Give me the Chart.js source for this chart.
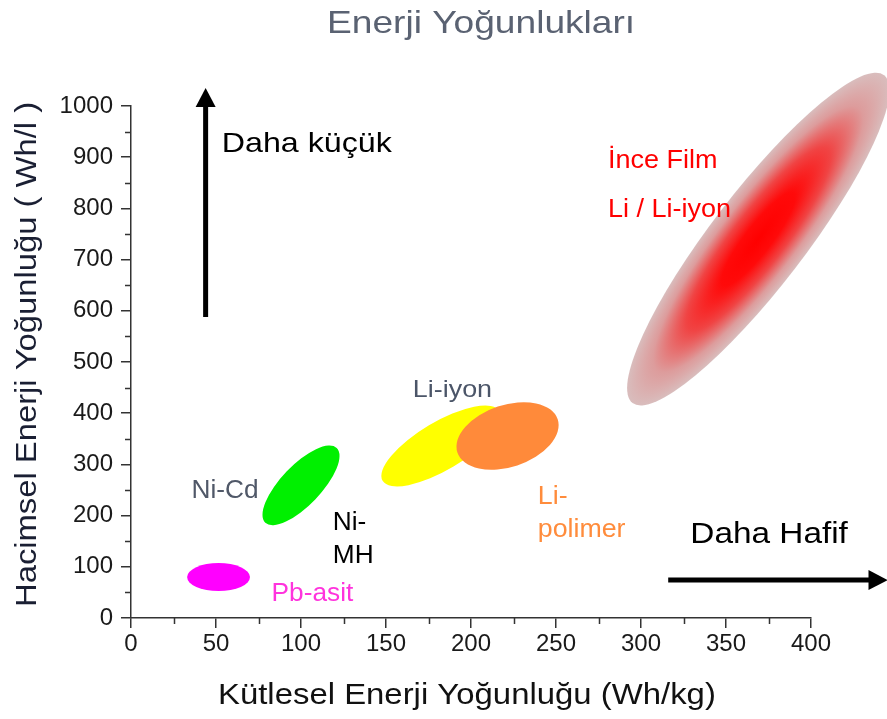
<!DOCTYPE html>
<html lang="tr">
<head>
    <meta charset="UTF-8">
    <title>Enerji Yoğunlukları</title>
    <script src="https://cdn.jsdelivr.net/npm/chart.js"></script>
    <style>
        body { margin: 0; background: #fff; }
        .chart-container { width: 887px; height: 719px; }
    </style>
</head>
<body>
    <div class="chart-container">
        <canvas id="energyChart" width="887" height="719"></canvas>
    </div>
    <script>
        // battery types, drawn back to front
        const regions = ['Pb-asit', 'Ni-Cd', 'Li-iyon', 'Li-polimer', 'İnce Film Li / Li-iyon'];
        // ends of the long axis of each region (Wh/kg, Wh/l)
        const whKgFrom = [33, 79, 148, 192, 295];
        const whKgTo = [70, 121, 217, 251, 443];
        const whLFrom = [80, 186, 268, 323, 420];
        const whLTo = [80, 332, 404, 388, 1060];

        const xTicks = [0, 50, 100, 150, 200, 250, 300, 350, 400];
        const yTicks = [0, 100, 200, 300, 400, 500, 600, 700, 800, 900, 1000];

        // look of each region: fill and half-thickness (px)
        const regionStyle = [
            { color: '#ff00ff', half: 14 },
            { color: '#00f000', half: 20 },
            { color: '#ffff00', half: 24 },
            { color: '#ff8a3a', half: 31 },
            { color: 'gradient', half: 47 }
        ];

        const font = 'Liberation Sans, Arial, sans-serif';

        // text notes anchored in data units (left edge, baseline)
        const notes = [
            { text: 'Daha küçük', x: 53.4, y: 910, size: 28, stretch: 1.15, color: '#000' },
            { text: 'İnce Film', x: 280.6, y: 879, size: 25, stretch: 1.08, color: '#ff0000' },
            { text: 'Li / Li-iyon', x: 280.6, y: 783, size: 25, stretch: 1.08, color: '#ff0000' },
            { text: 'Li-iyon', x: 165.8, y: 432, size: 24, stretch: 1.12, color: '#4b5568' },
            { text: 'Ni-Cd', x: 35.6, y: 234, size: 25, stretch: 1.05, color: '#505868' },
            { text: 'Ni-', x: 118.7, y: 172, size: 25, stretch: 1.05, color: '#000' },
            { text: 'MH', x: 118.7, y: 107, size: 25, stretch: 1.05, color: '#000' },
            { text: 'Pb-asit', x: 82.7, y: 33, size: 25, stretch: 1.05, color: '#ff33dd' },
            { text: 'Li-', x: 239.3, y: 223, size: 25, stretch: 1.07, color: '#ff8c3c' },
            { text: 'polimer', x: 239.3, y: 158, size: 25, stretch: 1.07, color: '#ff8c3c' },
            { text: 'Daha Hafif', x: 329, y: 146, size: 29, stretch: 1.15, color: '#000' }
        ];
        // arrows in data units
        const arrows = [
            { x1: 43.9, y1: 588, x2: 43.9, y2: 1035 },
            { x1: 316, y1: 74, x2: 445, y2: 74 }
        ];

        function stretchedText(ctx, text, x, y, size, stretch, color, rot) {
            ctx.save();
            ctx.translate(x, y);
            if (rot) ctx.rotate(rot);
            ctx.scale(stretch, 1);
            ctx.font = size + 'px ' + font;
            ctx.fillStyle = color;
            ctx.textAlign = 'left';
            ctx.textBaseline = 'alphabetic';
            ctx.fillText(text, 0, 0);
            ctx.restore();
        }

        const regionPlugin = {
            id: 'regions',
            beforeDatasetsDraw(chart) {
                const ctx = chart.ctx;
                regions.forEach((name, i) => {
                    const pts = chart.getDatasetMeta(i).data;
                    const p1 = pts[0], p2 = pts[1];
                    const cx = (p1.x + p2.x) / 2, cy = (p1.y + p2.y) / 2;
                    const a = Math.hypot(p2.x - p1.x, p2.y - p1.y) / 2;
                    const ang = Math.atan2(p2.y - p1.y, p2.x - p1.x);
                    const b = regionStyle[i].half;
                    ctx.save();
                    if (regionStyle[i].color === 'gradient') {
                        ctx.translate(cx, cy);
                        ctx.rotate(ang);
                        ctx.scale(1, b / a);
                        const g = ctx.createRadialGradient(0, 0, 0, 0, 0, a);
                        g.addColorStop(0, '#ff0000');
                        g.addColorStop(0.28, '#ff0a0a');
                        g.addColorStop(0.55, '#f04444');
                        g.addColorStop(0.8, '#dd9c9c');
                        g.addColorStop(1, '#d9bdbd');
                        ctx.fillStyle = g;
                        ctx.beginPath();
                        ctx.arc(0, 0, a, 0, Math.PI * 2);
                        ctx.fill();
                    } else {
                        ctx.fillStyle = regionStyle[i].color;
                        ctx.beginPath();
                        ctx.ellipse(cx, cy, a, b, ang, 0, Math.PI * 2);
                        ctx.fill();
                    }
                    ctx.restore();
                });
            },
            afterDraw(chart) {
                const ctx = chart.ctx;
                const xs = chart.scales.x, ys = chart.scales.y;

                // minor ticks
                ctx.save();
                ctx.strokeStyle = '#333';
                ctx.lineWidth = 1.5;
                ctx.beginPath();
                for (let v = 25; v < 400; v += 50) {
                    const px = Math.round(xs.getPixelForValue(v)) + 0.5;
                    ctx.moveTo(px, ys.bottom);
                    ctx.lineTo(px, ys.bottom + 6);
                }
                for (let v = 50; v < 1000; v += 100) {
                    const py = Math.round(ys.getPixelForValue(v)) + 0.5;
                    ctx.moveTo(xs.left, py);
                    ctx.lineTo(xs.left - 6, py);
                }
                ctx.stroke();
                ctx.restore();

                // arrows
                arrows.forEach(ar => {
                    const x1 = xs.getPixelForValue(ar.x1), y1 = ys.getPixelForValue(ar.y1);
                    const x2 = xs.getPixelForValue(ar.x2), y2 = ys.getPixelForValue(ar.y2);
                    const ang = Math.atan2(y2 - y1, x2 - x1);
                    const head = 19;
                    ctx.save();
                    ctx.strokeStyle = '#000';
                    ctx.fillStyle = '#000';
                    ctx.lineWidth = 5;
                    ctx.beginPath();
                    ctx.moveTo(x1, y1);
                    ctx.lineTo(x2 - Math.cos(ang) * head * 0.8, y2 - Math.sin(ang) * head * 0.8);
                    ctx.stroke();
                    ctx.translate(x2, y2);
                    ctx.rotate(ang);
                    ctx.beginPath();
                    ctx.moveTo(0, 0);
                    ctx.lineTo(-head, -10);
                    ctx.lineTo(-head, 10);
                    ctx.closePath();
                    ctx.fill();
                    ctx.restore();
                });

                // notes
                notes.forEach(n => {
                    stretchedText(ctx, n.text, xs.getPixelForValue(n.x), ys.getPixelForValue(n.y),
                        n.size, n.stretch, n.color);
                });

                // title and axis titles
                stretchedText(ctx, 'Enerji Yoğunlukları', 327, 33, 32, 1.16, '#5a6272');
                stretchedText(ctx, 'Kütlesel Enerji Yoğunluğu (Wh/kg)', 218, 704, 29, 1.134, '#111');
                stretchedText(ctx, 'Hacimsel Enerji Yoğunluğu ( Wh/l )', 36, 607, 29, 1.13, '#1a1f33', -Math.PI / 2);
            }
        };

        const datasets = regions.map((name, i) => ({
            label: name,
            data: [{ x: whKgFrom[i], y: whLFrom[i] }, { x: whKgTo[i], y: whLTo[i] }],
            pointRadius: 0,
            showLine: false
        }));

        const axisStyle = {
            border: { display: true, color: '#333', width: 1.5 },
            grid: { drawOnChartArea: false, drawTicks: true, tickLength: 10, color: '#333', lineWidth: 1.5 }
        };

        new Chart(document.getElementById('energyChart').getContext('2d'), {
            type: 'scatter',
            data: { datasets: datasets },
            options: {
                responsive: false,
                animation: false,
                layout: { padding: { top: 106, right: 76, left: 0, bottom: 0 } },
                plugins: { legend: { display: false }, tooltip: { enabled: false }, title: { display: false } },
                scales: {
                    x: {
                        type: 'linear',
                        min: xTicks[0],
                        max: xTicks[xTicks.length - 1],
                        afterBuildTicks: s => { s.ticks = xTicks.map(v => ({ value: v })); },
                        afterFit: s => { s.height = 101; },
                        ticks: { font: { family: font, size: 24 }, color: '#1a1a1a', padding: 2, maxRotation: 0,
                            callback: v => String(v) },
                        ...axisStyle
                    },
                    y: {
                        type: 'linear',
                        min: yTicks[0],
                        max: yTicks[yTicks.length - 1],
                        afterBuildTicks: s => { s.ticks = yTicks.map(v => ({ value: v })); },
                        afterFit: s => { s.width = 131; },
                        ticks: { font: { family: font, size: 24 }, color: '#1a1a1a', padding: 8,
                            callback: v => String(v) },
                        ...axisStyle
                    }
                }
            },
            plugins: [regionPlugin]
        });
    </script>
</body>
</html>
